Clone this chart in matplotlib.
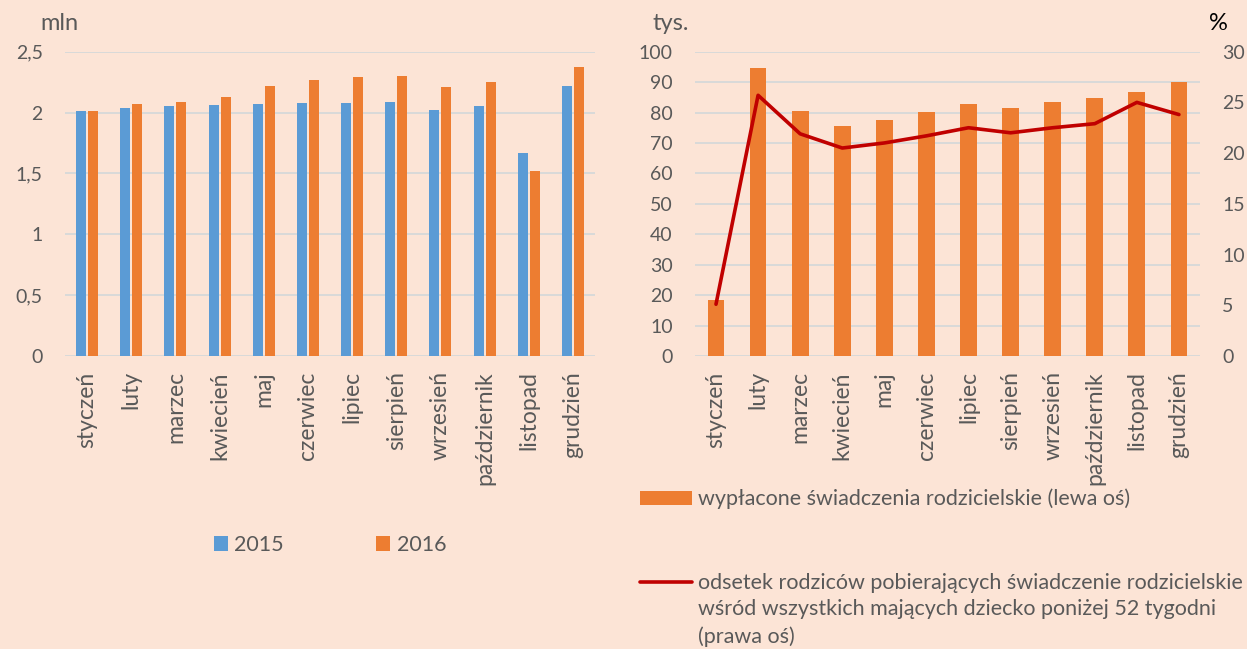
import matplotlib
matplotlib.use("Agg")
import matplotlib.pyplot as plt
import numpy as np

plt.rcParams['font.family'] = ['Lato', 'DejaVu Sans']

# data
months = ['styczeń', 'luty', 'marzec', 'kwiecień', 'maj', 'czerwiec', 'lipiec',
          'sierpień', 'wrzesień', 'październik', 'listopad', 'grudzień']
y2015 = [2.01, 2.04, 2.05, 2.06, 2.07, 2.08, 2.08, 2.09, 2.02, 2.05, 1.67, 2.22]
y2016 = [2.01, 2.07, 2.09, 2.13, 2.22, 2.27, 2.29, 2.30, 2.21, 2.25, 1.52, 2.37]
left_ticks = [0, 0.5, 1, 1.5, 2, 2.5]
left_ticklabels = ['0', '0,5', '1', '1,5', '2', '2,5']

benefits = [18.5, 94.5, 80.5, 75.6, 77.6, 80.3, 82.9, 81.6, 83.3, 84.7, 86.8, 90.0]
share = [5.1, 25.7, 21.9, 20.5, 21.0, 21.7, 22.5, 22.0, 22.5, 22.9, 25.0, 23.8]

BG = '#FCE4D6'
BLUE = '#5B9BD5'
ORANGE = '#ED7D31'
RED = '#C00000'
GRID = '#D9D9D9'
TXT = '#595959'
FS = 14       # tick numbers
FS_M = 16.5   # month names
FS_L = 15.5   # legends
FS_U = 17     # unit labels

fig = plt.figure(figsize=(12.47, 6.49), dpi=100, facecolor=BG)

x = np.arange(len(months))

# ---- left panel
ax1 = fig.add_axes([0.0521, 0.4515, 0.4250, 0.4689])
ax1.set_facecolor(BG)
b1 = ax1.bar(x - 0.136, y2015, width=0.226, color=BLUE, zorder=3)
b2 = ax1.bar(x + 0.136, y2016, width=0.226, color=ORANGE, zorder=3)
ax1.set_xlim(-0.5, 11.5)
ax1.set_ylim(0, 2.5)
ax1.set_yticks(left_ticks)
ax1.set_yticklabels(left_ticklabels)
ax1.set_xticks(x)
ax1.set_xticklabels(months, rotation=90)
ax1.grid(axis='y', color=GRID, lw=1.4, zorder=0)
for s in ax1.spines.values():
    s.set_visible(False)
ax1.tick_params(axis='y', length=0, pad=16, labelsize=FS, labelcolor=TXT)
ax1.tick_params(axis='x', length=0, pad=11, labelsize=FS_M, labelcolor=TXT)

fig.text(40 / 1247, 1 - 24 / 649, 'mln', fontsize=FS_U, color=TXT, va='center', ha='left')

ax1.legend([b1, b2], ['2015', '2016'], loc='center', bbox_to_anchor=(0.2646, 0.160),
           bbox_transform=fig.transFigure, ncol=2, frameon=False, fontsize=FS_L,
           labelcolor=TXT, handlelength=0.65, handleheight=0.65, handletextpad=0.3,
           columnspacing=4.3)

# ---- right panel
ax2 = fig.add_axes([0.5573, 0.4515, 0.4050, 0.4689])
ax2.set_facecolor(BG)
bars = ax2.bar(x, benefits, width=0.40, color=ORANGE, zorder=3)
ax2.set_xlim(-0.5, 11.5)
ax2.set_ylim(0, 100)
ax2.set_yticks(range(0, 101, 10))
ax2.set_xticks(x)
ax2.set_xticklabels(months, rotation=90)
ax2.grid(axis='y', color=GRID, lw=1.4, zorder=0)
for s in ax2.spines.values():
    s.set_visible(False)
ax2.tick_params(axis='y', length=0, pad=16, labelsize=FS, labelcolor=TXT)
ax2.tick_params(axis='x', length=0, pad=11, labelsize=FS_M, labelcolor=TXT)

ax3 = ax2.twinx()
line, = ax3.plot(x, share, color=RED, lw=2.6, solid_joinstyle='round',
                 solid_capstyle='round', zorder=5)
ax3.set_ylim(0, 30)
ax3.set_yticks(range(0, 31, 5))
for s in ax3.spines.values():
    s.set_visible(False)
ax3.tick_params(axis='y', length=0, pad=16, labelsize=FS, labelcolor=TXT)

fig.text(652 / 1247, 1 - 24 / 649, 'tys.', fontsize=FS_U, color=TXT, va='center', ha='left')
fig.text(1209 / 1247, 1 - 24 / 649, '%', fontsize=FS_U, color='black', va='center', ha='left')

ax2.legend([bars, line],
           ['wypłacone świadczenia rodzicielskie (lewa oś)',
            'odsetek rodziców pobierających świadczenie rodzicielskie'],
           loc='upper left', bbox_to_anchor=(640 / 1247, 1 - 488.7 / 649),
           bbox_transform=fig.transFigure, frameon=False, fontsize=FS_L,
           labelcolor=TXT, handlelength=2.42, handleheight=0.6, handletextpad=0.28,
           borderpad=0, borderaxespad=0, labelspacing=2.95)
fig.text(698 / 1247, 1 - 623 / 649,
         'wśród wszystkich mających dziecko poniżej 52 tygodni\n(prawa oś)',
         fontsize=FS_L, color=TXT, va='center', ha='left', linespacing=1.5)

fig.savefig('out.png', dpi=100, facecolor=BG)
